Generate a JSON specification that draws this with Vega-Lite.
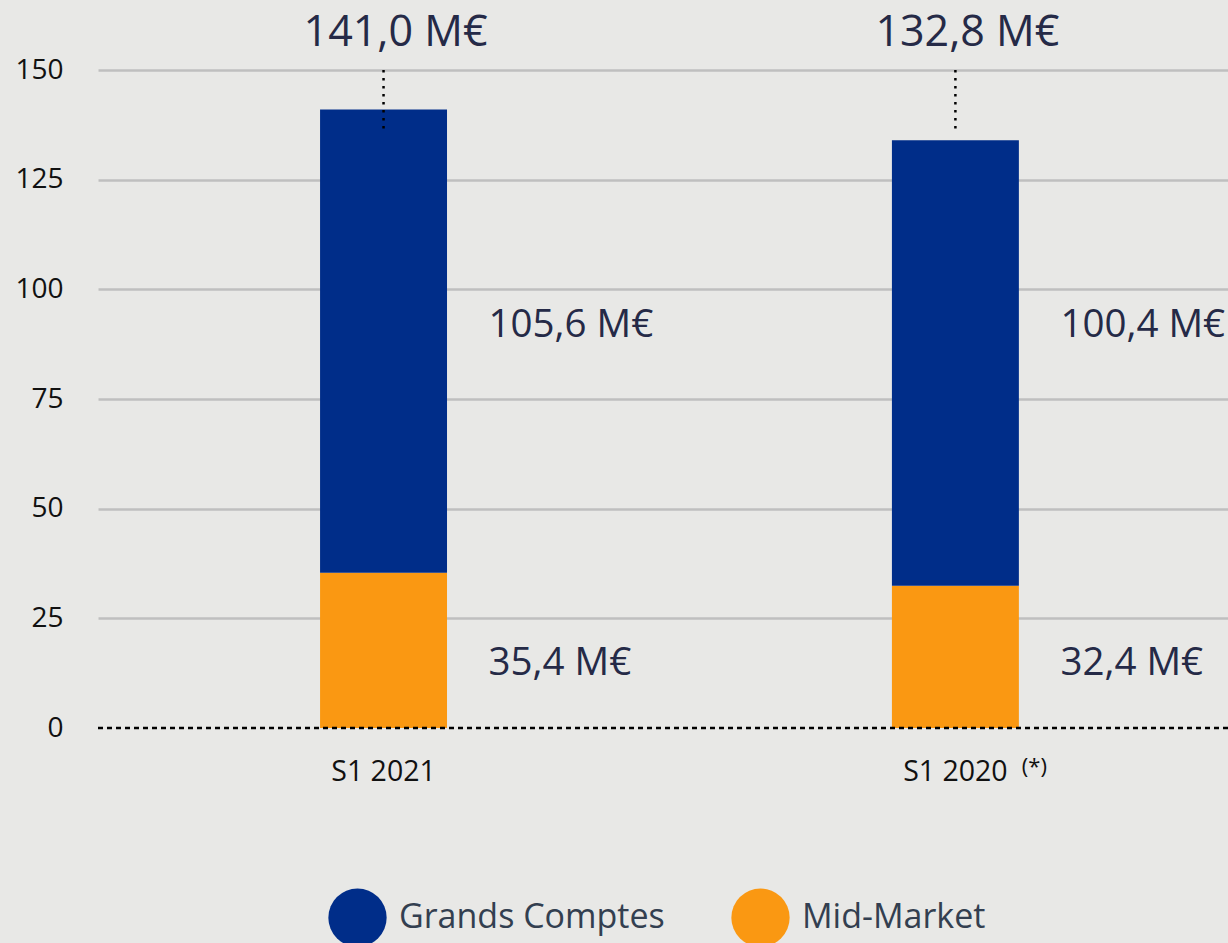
{
  "$schema": "https://vega.github.io/schema/vega-lite/v6.json",
  "autosize": "none",
  "width": 1130,
  "height": 658,
  "padding": {"left": 98, "top": 70, "right": 0, "bottom": 215},
  "background": "#E8E8E6",
  "config": {
    "font": "Open Sans",
    "view": {"stroke": null},
    "axis": {"labelFont": "Open Sans"},
    "legend": {"labelFont": "Open Sans"}
  },
  "datasets": {
    "segments": [
      {"period": "S1 2021", "segment": "Mid-Market", "value": 35.4, "label": "35,4 M€", "labelPos": 14.8},
      {"period": "S1 2021", "segment": "Grands Comptes", "value": 105.6, "label": "105,6 M€", "labelPos": 91.9},
      {"period": "S1 2020", "segment": "Mid-Market", "value": 32.4, "label": "32,4 M€", "labelPos": 14.8},
      {"period": "S1 2020", "segment": "Grands Comptes", "value": 101.6, "label": "100,4 M€", "labelPos": 91.9}
    ],
    "totals": [
      {"period": "S1 2021", "total": "141,0 M€", "labelPos": 158.5, "lineTop": 150, "lineBottom": 136.3},
      {"period": "S1 2020", "total": "132,8 M€", "labelPos": 158.5, "lineTop": 150, "lineBottom": 136.3}
    ],
    "notes": [
      {"period": "S1 2020", "note": "(*)", "base": 0}
    ]
  },
  "encoding": {
    "x": {
      "field": "period",
      "type": "nominal",
      "sort": ["S1 2021", "S1 2020"],
      "scale": {"paddingInner": 0.778, "paddingOuter": 0.377, "align": 0.515},
      "axis": {
        "title": null,
        "domain": false,
        "ticks": false,
        "labelAngle": 0,
        "labelFontSize": 28.5,
        "labelColor": "#111111",
        "labelPadding": 29
      }
    }
  },
  "layer": [
    {
      "data": {"name": "segments"},
      "mark": {"type": "bar", "stroke": null},
      "encoding": {
        "y": {
          "field": "value",
          "type": "quantitative",
          "stack": "zero",
          "scale": {"domain": [0, 150], "nice": false},
          "axis": {
            "title": null,
            "values": [0, 25, 50, 75, 100, 125, 150],
            "domain": false,
            "ticks": false,
            "labelFontSize": 28,
            "labelColor": "#111111",
            "labelPadding": 35,
            "gridColor": "#BFBFBF",
            "gridWidth": 2.5,
            "gridOpacity": {"condition": {"test": "datum.value === 0", "value": 0}, "value": 1}
          }
        },
        "color": {
          "field": "segment",
          "type": "nominal",
          "scale": {"domain": ["Grands Comptes", "Mid-Market"], "range": ["#002D89", "#FA9812"]},
          "legend": {
            "title": null,
            "orient": "none",
            "direction": "horizontal",
            "legendX": 230,
            "legendY": 818,
            "padding": 0,
            "symbolType": "circle",
            "symbolSize": 3400,
            "symbolStrokeWidth": 0,
            "symbolOpacity": 1,
            "labelFontSize": 34,
            "labelColor": "#333F50",
            "labelOffset": 12,
            "columnPadding": 66,
            "labelLimit": 400
          }
        },
        "order": {"field": "segment", "sort": "descending"}
      }
    },
    {
      "data": {"name": "segments"},
      "mark": {"type": "text", "align": "left", "baseline": "middle", "dx": 105, "fontSize": 38.5, "color": "#252A47"},
      "encoding": {
        "y": {"field": "labelPos", "type": "quantitative"},
        "text": {"field": "label"}
      }
    },
    {
      "data": {"name": "totals"},
      "mark": {"type": "rule", "color": "#000000", "strokeWidth": 2.5, "strokeDash": [2.5, 5.5]},
      "encoding": {
        "y": {"field": "lineTop", "type": "quantitative"},
        "y2": {"field": "lineBottom"}
      }
    },
    {
      "data": {"name": "totals"},
      "mark": {"type": "text", "align": "center", "baseline": "middle", "fontSize": 43, "dx": 12, "color": "#252A47"},
      "encoding": {
        "y": {"field": "labelPos", "type": "quantitative"},
        "text": {"field": "total"}
      }
    },
    {
      "data": {"name": "notes"},
      "mark": {"type": "rule", "color": "#000000", "strokeWidth": 2.5, "strokeDash": [5, 4]},
      "encoding": {
        "x": {"value": 0},
        "x2": {"value": 1130},
        "y": {"field": "base", "type": "quantitative"}
      }
    },
    {
      "data": {"name": "notes"},
      "mark": {"type": "text", "align": "center", "baseline": "middle", "fontSize": 22, "dx": 79, "dy": 39, "color": "#111111"},
      "encoding": {
        "y": {"field": "base", "type": "quantitative"},
        "text": {"field": "note"}
      }
    }
  ]
}
